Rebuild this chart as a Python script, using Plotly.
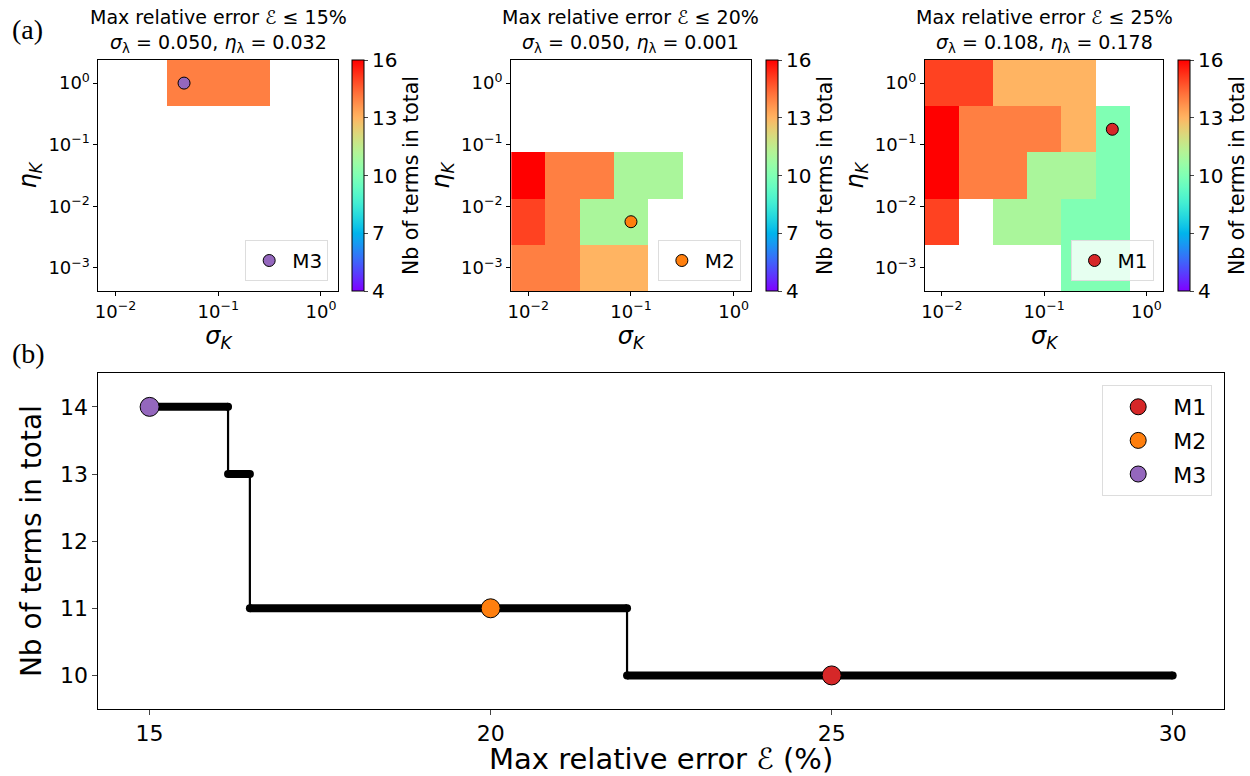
import numpy as np
import plotly.graph_objects as go

# ---------------- data ----------------
sigma_K = [0.01, 0.0215, 0.0464, 0.1, 0.215, 0.464, 1.0]
eta_K = [0.001, 0.00562, 0.0316, 0.178, 1.0]
N = None
# rows: eta ascending, cols: sigma ascending
z_15 = [
    [N, N, N, N, N, N, N],
    [N, N, N, N, N, N, N],
    [N, N, N, N, N, N, N],
    [N, N, N, N, N, N, N],
    [N, N, 14, 14, 14, N, N],
]
z_20 = [
    [14, 14, 13, 13, N, N, N],
    [15, 14, 11, 11, N, N, N],
    [16, 14, 14, 11, 11, N, N],
    [N, N, N, N, N, N, N],
    [N, N, N, N, N, N, N],
]
z_25 = [
    [N, N, N, N, 10, 10, N],
    [15, N, 11, 11, 10, 10, N],
    [16, 14, 14, 11, 11, 10, N],
    [16, 14, 14, 14, 13, 10, N],
    [15, 15, 13, 13, 13, N, N],
]
panel_titles = ["Max relative error ℰ ≤ 15%", "Max relative error ℰ ≤ 20%", "Max relative error ℰ ≤ 25%"]
panel_params = [("0.050", "0.032"), ("0.050", "0.001"), ("0.108", "0.178")]

models = ["M1", "M2", "M3"]
model_colors = ["#d62728", "#ff7f0e", "#9467bd"]
model_sigma = [0.464, 0.1, 0.0464]
model_eta = [0.178, 0.00562, 1.0]
model_err = [25, 20, 15]
model_terms = [10, 11, 14]

step_start = [15.0, 16.15, 16.47, 22.0]
step_end = [16.15, 16.47, 22.0, 30.0]
step_terms = [14, 13, 11, 10]

# ---------------- style ----------------
W, H = 1250, 776
def px_x(a, b):
    return [a / W, b / W]
def px_y(top, bot):
    return [1 - bot / H, 1 - top / H]

# matplotlib "rainbow" colormap
def rainbow(t):
    r = min(1.0, abs(2 * t - 0.5))
    g = np.sin(np.pi * t)
    b = np.cos(np.pi * t / 2)
    return "rgb(%d,%d,%d)" % (round(r * 255), round(g * 255), round(max(b, 0) * 255))
cscale = [[t, rainbow(t)] for t in np.linspace(0, 1, 41)]

FONT = "DejaVu Sans"
fig = go.Figure()

panel_x = [(95, 336), (510, 751), (926, 1166)]
cbar_x = [350, 766, 1181]
panel_y = (60, 291)
zs = [z_15, z_20, z_25]
model_idx = [2, 1, 0]  # M3, M2, M1

lx = np.log10(sigma_K)
ly = np.log10(eta_K)

for i in range(3):
    ax = "" if i == 0 else str(i + 1)
    fig.add_trace(go.Heatmap(
        x=lx, y=ly, z=zs[i], zmin=4, zmax=16, colorscale=cscale,
        xaxis="x" + ax, yaxis="y" + ax, hoverongaps=False,
        colorbar=dict(
            x=cbar_x[i] / W, xanchor="left", xpad=0, ypad=0,
            y=1 - panel_y[1] / H, yanchor="bottom",
            len=(panel_y[1] - panel_y[0]) / H, lenmode="fraction",
            thickness=12, outlinewidth=1, outlinecolor="black",
            tickvals=[4, 7, 10, 13, 16], ticks="outside", ticklen=4,
            tickfont=dict(family=FONT, size=20, color="black"),
            title=dict(text="Nb of terms in total", side="right",
                       font=dict(family=FONT, size=20.5, color="black")),
        ),
    ))
    m = model_idx[i]
    fig.add_trace(go.Scatter(
        x=[np.log10(model_sigma[m])], y=[np.log10(model_eta[m])],
        mode="markers", name=models[m], xaxis="x" + ax, yaxis="y" + ax,
        marker=dict(size=12, color=model_colors[m], line=dict(color="black", width=1)),
        legend="legend" + str(i + 2), showlegend=True,
    ))
    axis_common = dict(showline=True, mirror=True, linecolor="black", linewidth=1,
                       ticks="outside", ticklen=4, tickcolor="black",
                       showgrid=False, zeroline=False,
                       tickfont=dict(family=FONT, size=18, color="black"))
    fig.layout["xaxis" + ax] = dict(
        domain=px_x(*panel_x[i]), anchor="y" + ax,
        range=[-2 - 1 / 6, 1 / 6], tickvals=[-2, -1, 0],
        ticktext=["10<sup>−2</sup>", "10<sup>−1</sup>", "10<sup>0</sup>"],
        title=dict(text="<i>σ</i><sub><i>K</i></sub>", standoff=4,
                   font=dict(family=FONT, size=24, color="black")),
        **axis_common)
    fig.layout["yaxis" + ax] = dict(
        domain=px_y(*panel_y), anchor="x" + ax,
        range=[-3.375, 0.375], tickvals=[-3, -2, -1, 0],
        ticktext=["10<sup>−3</sup>", "10<sup>−2</sup>", "10<sup>−1</sup>", "10<sup>0</sup>"],
        title=dict(text="<i>η</i><sub><i>K</i></sub>", standoff=4,
                   font=dict(family=FONT, size=24, color="black")),
        **axis_common)
    cx = (panel_x[i][0] + panel_x[i][1]) / 2 / W
    fig.add_annotation(
        x=cx, y=1 - 58 / H, xref="paper", yref="paper", xanchor="center", yanchor="bottom",
        showarrow=False, align="center",
        text=panel_titles[i] + "<br><i>σ</i><sub>λ</sub> = " + panel_params[i][0]
             + ", <i>η</i><sub>λ</sub> = " + panel_params[i][1],
        font=dict(family=FONT, size=19, color="black"))
    fig.layout["legend" + str(i + 2)] = dict(
        x=(panel_x[i][1] - 10) / W, y=1 - 281 / H, xanchor="right", yanchor="bottom",
        bgcolor="rgba(255,255,255,0.8)", bordercolor="#dddddd", borderwidth=1,
        itemwidth=36, font=dict(family=FONT, size=20, color="black"))

# ---------------- bottom panel ----------------
hx, hy = [], []
for s, e, t in zip(step_start, step_end, step_terms):
    hx += [s, e, None]
    hy += [t, t, None]
vx, vy = [], []
for k in range(len(step_terms) - 1):
    vx += [step_end[k], step_end[k], None]
    vy += [step_terms[k], step_terms[k + 1], None]

fig.add_trace(go.Scatter(x=vx, y=vy, mode="lines", line=dict(color="black", width=2.2),
                         xaxis="x4", yaxis="y4", showlegend=False, hoverinfo="skip"))
fig.add_trace(go.Scatter(x=hx, y=hy, mode="lines+markers", line=dict(color="black", width=8),
                         marker=dict(size=8, color="black"),
                         xaxis="x4", yaxis="y4", showlegend=False, hoverinfo="skip"))
for m in range(3):
    fig.add_trace(go.Scatter(
        x=[model_err[m]], y=[model_terms[m]], mode="markers", name=models[m],
        xaxis="x4", yaxis="y4", legend="legend", legendgroup=models[m],
        marker=dict(size=19, color=model_colors[m], line=dict(color="black", width=1))))

fig.layout["xaxis4"] = dict(
    domain=px_x(95, 1226.7), anchor="y4", range=[14.25, 30.75], tickvals=[15, 20, 25, 30],
    showline=True, mirror=True, linecolor="black", linewidth=1, ticks="outside", ticklen=5,
    showgrid=False, zeroline=False, tickfont=dict(family=FONT, size=22, color="black"),
    title=dict(text="Max relative error ℰ (%)", standoff=8,
               font=dict(family=FONT, size=29, color="black")))
fig.layout["yaxis4"] = dict(
    domain=px_y(373.3, 709), anchor="x4", range=[9.5, 14.5], tickvals=[10, 11, 12, 13, 14],
    showline=True, mirror=True, linecolor="black", linewidth=1, ticks="outside", ticklen=5,
    showgrid=False, zeroline=False, tickfont=dict(family=FONT, size=22, color="black"),
    title=dict(text="Nb of terms in total", standoff=10,
               font=dict(family=FONT, size=28, color="black")))
fig.layout["legend"] = dict(
    x=1215 / W, y=1 - 385 / H, xanchor="right", yanchor="top",
    bgcolor="rgba(255,255,255,0.8)", bordercolor="#dddddd", borderwidth=1,
    itemwidth=60, font=dict(family=FONT, size=22, color="black"), tracegroupgap=2)

for txt, yy in [("(a)", 30), ("(b)", 354)]:
    fig.add_annotation(x=6 / W, y=1 - yy / H, xref="paper", yref="paper",
                       xanchor="left", yanchor="middle", showarrow=False, text=txt,
                       font=dict(family="Liberation Serif", size=28, color="black"))

fig.update_layout(width=W, height=H, margin=dict(l=0, r=0, t=0, b=0),
                  paper_bgcolor="white", plot_bgcolor="white", showlegend=True)
fig.write_html("out.html")
